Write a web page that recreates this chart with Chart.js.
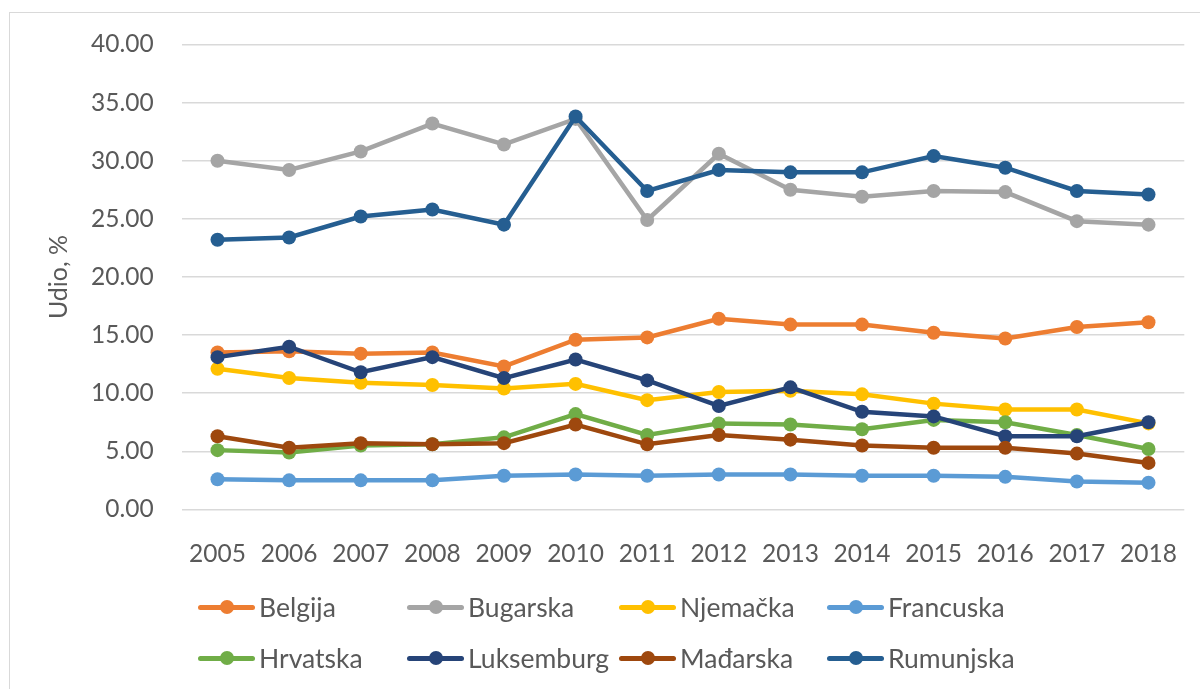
<!DOCTYPE html>
<html lang="hr">
<head>
    <meta charset="UTF-8">
    <title>Udio, %</title>
    <script src="https://cdn.jsdelivr.net/npm/chart.js"></script>
    <style>
        body { margin: 0; background: #fff; font-family: Lato, sans-serif; }
        .wrap { position: relative; width: 1200px; height: 689px; overflow: hidden; }
        .frame { position: absolute; left: 9px; top: 12px; width: 1200px; height: 700px; border: 1.5px solid #d9d9d9; box-sizing: border-box; }
        canvas { position: absolute; left: 0; top: 0; }
        .legend-item { position: absolute; height: 20px; display: flex; align-items: center; }
        .legend-line { position: relative; width: 57px; height: 5px; border-radius: 3px; }
        .legend-dot { position: absolute; left: 21.5px; top: -4.5px; width: 14px; height: 14px; border-radius: 50%; }
        .legend-text { margin-left: 4px; font-size: 26.5px; color: #595959; line-height: 20px; }
    </style>
</head>
<body>
    <div class="wrap">
        <div class="frame"></div>
        <canvas id="chart" width="1200" height="689"></canvas>
        <div id="legend"></div>
    </div>

    <script>
        // data
        var years = ['2005', '2006', '2007', '2008', '2009', '2010', '2011', '2012', '2013', '2014', '2015', '2016', '2017', '2018'];
        var names = ['Belgija', 'Bugarska', 'Njemačka', 'Francuska', 'Hrvatska', 'Luksemburg', 'Mađarska', 'Rumunjska'];
        var colors = ['#ED7D31', '#A5A5A5', '#FFC000', '#5B9BD5', '#70AD47', '#264478', '#9E480E', '#255E91'];

        var belgija = [13.5, 13.6, 13.4, 13.5, 12.3, 14.6, 14.8, 16.4, 15.9, 15.9, 15.2, 14.7, 15.7, 16.1];
        var bugarska = [30.0, 29.2, 30.8, 33.2, 31.4, 33.6, 24.9, 30.6, 27.5, 26.9, 27.4, 27.3, 24.8, 24.5];
        var njemacka = [12.1, 11.3, 10.9, 10.7, 10.4, 10.8, 9.4, 10.1, 10.2, 9.9, 9.1, 8.6, 8.6, 7.4];
        var francuska = [2.6, 2.5, 2.5, 2.5, 2.9, 3.0, 2.9, 3.0, 3.0, 2.9, 2.9, 2.8, 2.4, 2.3];
        var hrvatska = [5.1, 4.9, 5.5, 5.6, 6.2, 8.2, 6.4, 7.4, 7.3, 6.9, 7.7, 7.5, 6.4, 5.2];
        var luksemburg = [13.1, 14.0, 11.8, 13.1, 11.3, 12.9, 11.1, 8.9, 10.5, 8.4, 8.0, 6.3, 6.3, 7.5];
        var madjarska = [6.3, 5.3, 5.7, 5.6, 5.7, 7.3, 5.6, 6.4, 6.0, 5.5, 5.3, 5.3, 4.8, 4.0];
        var rumunjska = [23.2, 23.4, 25.2, 25.8, 24.5, 33.8, 27.4, 29.2, 29.0, 29.0, 30.4, 29.4, 27.4, 27.1];

        var yTicks = [0, 5, 10, 15, 20, 25, 30, 35, 40];

        var seriesData = [belgija, bugarska, njemacka, francuska, hrvatska, luksemburg, madjarska, rumunjska];
        var textColor = '#595959';

        var datasets = names.map(function(name, i) {
            return {
                label: name,
                data: seriesData[i],
                borderColor: colors[i],
                backgroundColor: colors[i],
                pointBackgroundColor: colors[i],
                pointBorderColor: colors[i],
                borderWidth: 4.5,
                pointRadius: 7,
                pointHoverRadius: 7,
                pointBorderWidth: 0,
                tension: 0,
                order: names.length - i // later series on top, like Excel
            };
        });

        new Chart(document.getElementById('chart'), {
            type: 'line',
            data: { labels: years, datasets: datasets },
            options: {
                responsive: false,
                animation: false,
                layout: { padding: { left: 36, top: 44.5, right: 15.7, bottom: 0 } },
                plugins: {
                    legend: { display: false },
                    tooltip: { enabled: false }
                },
                scales: {
                    x: {
                        offset: true,
                        grid: { display: false },
                        border: { display: false },
                        ticks: {
                            color: textColor,
                            font: { family: 'Lato', size: 24.5 },
                            padding: 22,
                            maxRotation: 0,
                            autoSkip: false
                        },
                        afterFit: function(scale) { scale.height = 179.6; }
                    },
                    y: {
                        min: yTicks[0],
                        max: yTicks[yTicks.length - 1],
                        afterBuildTicks: function(scale) {
                            scale.ticks = yTicks.map(function(v) { return { value: v }; });
                        },
                        ticks: {
                            color: textColor,
                            font: { family: 'Lato', size: 24.5 },
                            padding: 28,
                            callback: function(v) { return Number(v).toFixed(2); }
                        },
                        grid: { color: '#d9d9d9', lineWidth: 1.5, drawTicks: false },
                        border: { display: false },
                        title: {
                            display: true,
                            text: 'Udio, %',
                            color: textColor,
                            font: { family: 'Lato', size: 25 },
                            padding: { top: 8, bottom: 0 }
                        },
                        afterFit: function(scale) { scale.width = 145.7; }
                    }
                }
            }
        });

        // legend, two rows of four
        var legendCols = [198, 407, 619, 827];
        var legendRows = [607, 658];
        var legendEl = document.getElementById('legend');
        names.forEach(function(name, i) {
            var item = document.createElement('div');
            item.className = 'legend-item';
            item.style.left = legendCols[i % 4] + 'px';
            item.style.top = (legendRows[Math.floor(i / 4)] - 10) + 'px';
            item.innerHTML = '<span class="legend-line" style="background:' + colors[i] + '">' +
                '<span class="legend-dot" style="background:' + colors[i] + '"></span></span>' +
                '<span class="legend-text">' + name + '</span>';
            legendEl.appendChild(item);
        });
    </script>
</body>
</html>
